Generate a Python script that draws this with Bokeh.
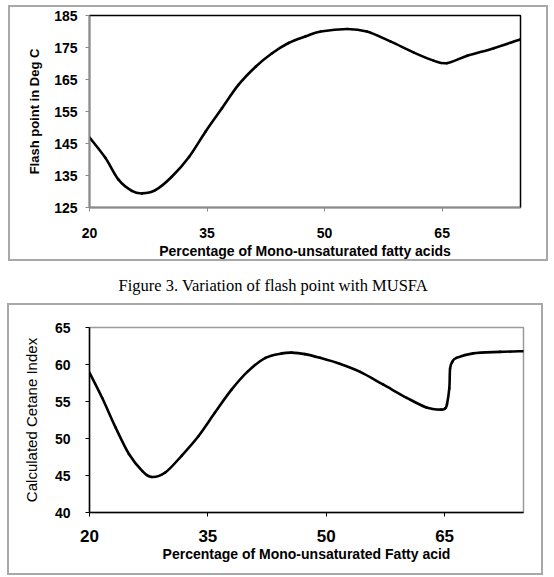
from bokeh.plotting import figure
from bokeh.layouts import column
from bokeh.models import Range1d, FixedTicker, Label
from bokeh.embed import file_html
from bokeh.resources import INLINE

# Flash point (deg C) against percentage of mono-unsaturated fatty acids
fp_x = [20.0, 22.0, 23.7, 25.4, 26.7, 28.4, 30.5, 32.7, 34.8, 36.9, 39.0, 41.2, 43.3,
        45.4, 47.6, 49.5, 52.9, 55.4, 58.4, 61.4, 63.9, 65.6, 68.2, 71.6, 75.0]
fp_y = [146.9, 140.6, 133.7, 130.2, 129.4, 130.4, 134.6, 140.8, 148.7, 156.0, 163.3, 169.0, 173.2,
        176.4, 178.5, 180.0, 180.8, 180.0, 176.9, 173.4, 170.9, 170.1, 172.4, 174.8, 177.6]

# Calculated cetane index against percentage of mono-unsaturated fatty acid
ci_x = [20.0, 21.6, 23.3, 25.0, 26.7, 27.9, 29.6, 31.7, 33.8, 35.9, 38.0, 40.1, 42.3, 44.4,
        45.6, 47.3, 49.2, 51.7, 54.3, 57.2, 60.2, 62.7, 64.6, 65.1, 65.3, 65.6, 65.7, 66.0,
        66.5, 68.6, 72.0, 75.0]
ci_y = [58.9, 55.5, 51.5, 47.9, 45.6, 44.8, 45.4, 47.7, 50.3, 53.5, 56.6, 59.1, 60.9, 61.5,
        61.6, 61.4, 60.9, 60.1, 59.0, 57.3, 55.5, 54.2, 53.9, 54.1, 54.6, 56.8, 59.5, 60.4,
        60.9, 61.5, 61.7, 61.8]

x_ticks = [20, 35, 50, 65]
fp_ticks = [125, 135, 145, 155, 165, 175, 185]
ci_ticks = [40, 45, 50, 55, 60, 65]

FONT = "Liberation Sans"
# grey box round each chart; the canvas margins are transparent so it shows through
FRAME = {"box-shadow": "inset 0 0 0 2px #a8a8a8", "background-color": "white"}


def smooth_segments(xs, ys):
    """Cubic Bezier pieces through every point (Catmull-Rom tangents), like a smoothed line."""
    n = len(xs)
    seg = dict(x0=[], y0=[], x1=[], y1=[], cx0=[], cy0=[], cx1=[], cy1=[])
    for i in range(n - 1):
        a = max(i - 1, 0)
        d = min(i + 2, n - 1)
        seg["x0"].append(xs[i]); seg["y0"].append(ys[i])
        seg["x1"].append(xs[i + 1]); seg["y1"].append(ys[i + 1])
        seg["cx0"].append(xs[i] + (xs[i + 1] - xs[a]) / 6)
        seg["cy0"].append(ys[i] + (ys[i + 1] - ys[a]) / 6)
        seg["cx1"].append(xs[i + 1] - (xs[d] - xs[i]) / 6)
        seg["cy1"].append(ys[i + 1] - (ys[d] - ys[i]) / 6)
    return seg


def chart(xs, ys, y_ticks, y_lo, y_hi, w, h, borders, x_title, y_title,
          xtick_size, ytick_size, y_title_size, y_title_style, y_standoff,
          x_standoff, xtitle_standoff, ytitle_standoff, axis_color, outline_color, margin):
    left, right, top, bottom = borders
    p = figure(width=w, height=h, output_backend="svg", toolbar_location=None,
               x_range=Range1d(20, 75), y_range=Range1d(y_lo, y_hi),
               min_border_left=left, min_border_right=right,
               min_border_top=top, min_border_bottom=bottom,
               background_fill_color="white", border_fill_color=None,
               frame_align=False)
    p.margin = margin
    p.styles = dict(FRAME)
    p.grid.visible = False
    p.outline_line_color = outline_color
    p.outline_line_width = 1.5

    p.xaxis.ticker = FixedTicker(ticks=x_ticks)
    p.yaxis.ticker = FixedTicker(ticks=y_ticks)
    for ax in (p.xaxis[0], p.yaxis[0]):
        ax.axis_line_color = axis_color
        ax.axis_line_width = 1.5
        ax.major_tick_line_color = axis_color
        ax.major_tick_in = 0
        ax.major_tick_out = 4
        ax.minor_tick_line_color = None
        ax.major_label_text_font = FONT
        ax.major_label_text_font_style = "bold"
        ax.major_label_text_color = "black"
        ax.axis_label_text_font = FONT
        ax.axis_label_text_color = "black"

    p.xaxis.major_label_text_font_size = xtick_size
    p.yaxis.major_label_text_font_size = ytick_size
    p.xaxis.major_label_standoff = x_standoff
    p.yaxis.major_label_standoff = y_standoff

    p.xaxis.axis_label = x_title
    p.xaxis.axis_label_text_font_size = "14px"
    p.xaxis.axis_label_text_font_style = "bold"
    p.xaxis.axis_label_standoff = xtitle_standoff

    p.yaxis.axis_label = y_title
    p.yaxis.axis_label_text_font_size = y_title_size
    p.yaxis.axis_label_text_font_style = y_title_style
    p.yaxis.axis_label_standoff = ytitle_standoff

    p.bezier(source=smooth_segments(xs, ys), x0="x0", y0="y0", x1="x1", y1="y1",
             cx0="cx0", cy0="cy0", cx1="cx1", cy1="cy1",
             line_color="black", line_width=2.6, line_cap="round")
    return p


top = chart(fp_x, fp_y, fp_ticks, 125, 185, 540, 256, (81, 28, 10, 54),
            "Percentage of Mono-unsaturated fatty acids", "Flash point in Deg C",
            "14px", "14px", "13px", "bold", 8, 16, 2, 9,
            "#8c8c8c", "black", (5, 0, 0, 8))

bottom = chart(ci_x, ci_y, ci_ticks, 40, 65, 536, 272, (82, 20, 24, 63),
               "Percentage of Mono-unsaturated Fatty acid", "Calculated Cetane Index",
               "17px", "14px", "15px", "normal", 15, 13, 1, 12,
               "black", "#9a9a9a", (0, 0, 0, 7))

# Caption strip between the two charts; x runs in page pixels
cap = figure(width=554, height=42, output_backend="svg", toolbar_location=None,
             x_range=Range1d(0, 554), y_range=Range1d(42, 0),
             x_axis_type=None, y_axis_type=None, min_border=0, frame_align=False,
             background_fill_color="white", border_fill_color="white")
cap.grid.visible = False
cap.outline_line_color = None
cap.add_layout(Label(x=118, y=24, text="Figure 3. Variation of flash point with MUSFA",
                     text_align="left", text_baseline="middle",
                     text_font="Liberation Serif", text_font_size="16.5px",
                     text_color="black"))

layout = column(top, cap, bottom, spacing=0)

with open("out.html", "w") as f:
    f.write(file_html(layout, INLINE, title="Flash point and cetane index vs MUSFA"))
